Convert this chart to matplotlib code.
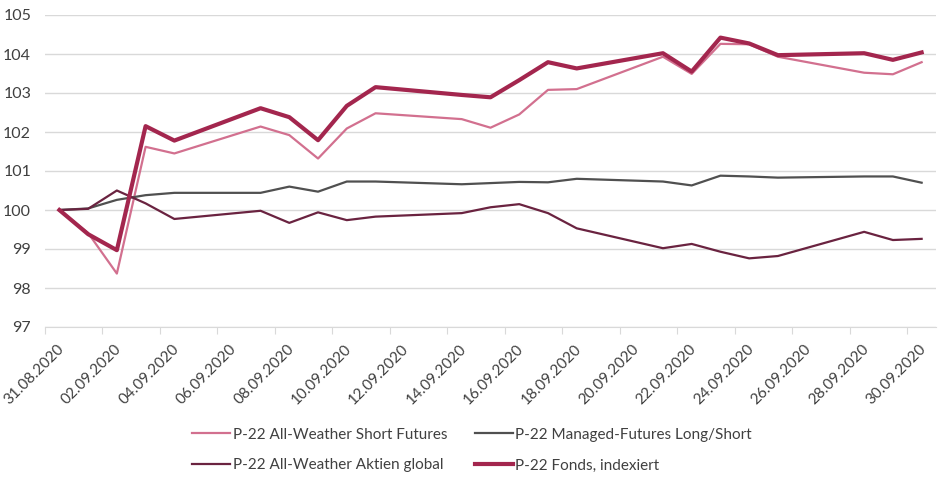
import matplotlib
matplotlib.use("Agg")
import matplotlib.pyplot as plt
import numpy as np

# Day offsets from 31.08.2020 (trading days)
days = [0, 1, 2, 3, 4, 7, 8, 9, 10, 11, 14, 15, 16, 17, 18, 21, 22, 23, 24, 25, 28, 29, 30]

short_futures = [100.00, 99.41, 98.37, 101.62, 101.45, 102.14, 101.92, 101.32, 102.09, 102.48,
                 102.33, 102.11, 102.45, 103.08, 103.10, 103.93, 103.49, 104.26, 104.25, 103.93,
                 103.52, 103.48, 103.79]
managed_futures = [100.00, 100.04, 100.26, 100.38, 100.44, 100.44, 100.60, 100.47, 100.73, 100.73,
                   100.66, 100.69, 100.72, 100.71, 100.80, 100.73, 100.63, 100.88, 100.86, 100.83,
                   100.86, 100.86, 100.70]
aktien_global = [100.00, 100.03, 100.50, 100.17, 99.77, 99.98, 99.67, 99.94, 99.74, 99.83,
                 99.92, 100.07, 100.15, 99.92, 99.53, 99.02, 99.13, 98.93, 98.76, 98.82,
                 99.44, 99.23, 99.26]
fonds = [100.00, 99.38, 98.97, 102.15, 101.78, 102.61, 102.38, 101.79, 102.67, 103.15,
         102.95, 102.89, 103.33, 103.79, 103.63, 104.02, 103.55, 104.42, 104.27, 103.97,
         104.02, 103.85, 104.04]

tick_days = list(range(0, 31, 2))
tick_labels = ["31.08.2020", "02.09.2020", "04.09.2020", "06.09.2020", "08.09.2020",
               "10.09.2020", "12.09.2020", "14.09.2020", "16.09.2020", "18.09.2020",
               "20.09.2020", "22.09.2020", "24.09.2020", "26.09.2020", "28.09.2020",
               "30.09.2020"]
y_ticks = [97, 98, 99, 100, 101, 102, 103, 104, 105]

names = ["P-22 All-Weather Short Futures", "P-22 Managed-Futures Long/Short",
         "P-22 All-Weather Aktien global", "P-22 Fonds, indexiert"]

plt.rcParams['font.family'] = ['Lato', 'DejaVu Sans']

fig = plt.figure(figsize=(9.4, 4.83), dpi=100)
W, H = 940, 483
ax = fig.add_axes([45 / W, 1 - 327 / H, (936 - 45) / W, (327 - 15) / H])

x = np.array(days) + 0.5
l1, = ax.plot(x, short_futures, color="#D2708F", lw=1.6, label=names[0], zorder=3)
l2, = ax.plot(x, managed_futures, color="#505050", lw=1.6, label=names[1], zorder=3)
l3, = ax.plot(x, aktien_global, color="#6A2340", lw=1.6, label=names[2], zorder=3)
l4, = ax.plot(x, fonds, color="#A3264E", lw=3.0, label=names[3], zorder=4)

ax.set_xlim(0, 31)
ax.set_ylim(97, 105)
ax.set_yticks(y_ticks)
ax.set_yticklabels([str(v) for v in y_ticks], fontsize=11.5, color="#404040")
ax.set_xticks(tick_days)
ax.set_xticklabels([""] * len(tick_days))
# rotated date labels, placed like the reference (end of text right-below the tick)
for d, lab in zip(tick_days, tick_labels):
    ax.annotate(lab, xy=(d, 0), xycoords=("data", "axes fraction"),
                xytext=(12, -14), textcoords="offset points",
                rotation=45, ha="right", va="center", rotation_mode="anchor",
                fontsize=11, color="#404040", annotation_clip=False)

ax.grid(axis="y", color="#D9D9D9", lw=1.0)
ax.set_axisbelow(True)
for s in ["top", "right", "left"]:
    ax.spines[s].set_visible(False)
ax.spines["bottom"].set_color("#D9D9D9")
ax.tick_params(axis="y", length=0, pad=10)
ax.tick_params(axis="x", length=5, color="#D9D9D9", direction="out", pad=2)

# matplotlib fills legend column-wise: reorder so rows read as in the reference
leg = fig.legend(handles=[l1, l3, l2, l4], labels=[names[0], names[2], names[1], names[3]],
                 ncol=2, loc="center", bbox_to_anchor=(0.502, 1 - 450 / H),
                 frameon=False, fontsize=11, handlelength=2.5, handletextpad=0.15,
                 columnspacing=1.8, labelspacing=1.1, labelcolor="#404040")

fig.savefig("out.png", dpi=100)
